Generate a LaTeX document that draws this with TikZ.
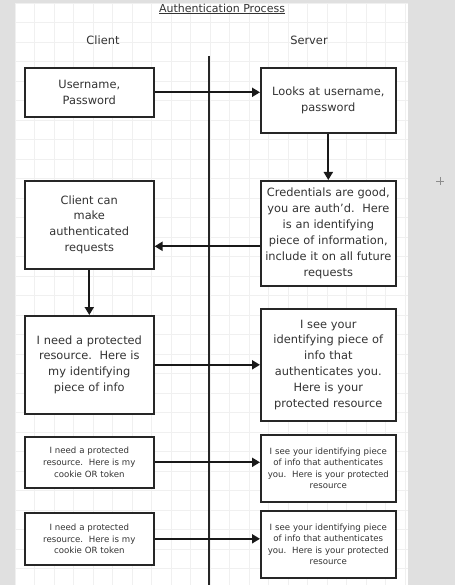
\documentclass[tikz,border=0pt]{standalone}
\usepackage{fontspec}
\setmainfont{DejaVu Sans}
\usetikzlibrary{arrows.meta,positioning}
\begin{document}
\begin{tikzpicture}[x=1pt,y=-1pt,
  box/.style={draw=black!85,line width=1.6pt,fill=white,text=black!80,align=center,inner sep=1pt,font=\fontsize{11.4}{15.9}\selectfont},
  cbox/.style={box,minimum width=129pt,text width=127pt},
  sbox/.style={box,minimum width=135pt,text width=133pt},
  small/.style={font=\fontsize{8.6}{11.6}\selectfont},
  arr/.style={line width=2pt,draw=black!90,-{Triangle[length=8pt,width=9pt]}},
  lbl/.style={font=\fontsize{11.4}{12}\selectfont,inner sep=0pt,text=black!80}]
\useasboundingbox (0,0) rectangle (455,585);
\fill[black!12] (0,0) rectangle (455,585);
\fill[white] (15,3) rectangle (408,585);
\draw[black!6,line width=0.5pt,shift={(15,3)}] (0,0) grid[step=19.5pt] (393,582);
% plus sign
\draw[black!45,line width=0.6pt] (436,181) -- (444,181) (440,177) -- (440,185);
% title and headers
\node[lbl,font=\fontsize{11}{12}\selectfont] (title) at (222,9) {\underline{Authentication Process}};
\node[lbl] (client) at (103,40) {Client};
\node[lbl] (server) at (309,40) {Server};
\coordinate (vtop) at (209,56);
\coordinate (vbot) at (209,585);
\draw[line width=1.2pt,black!85] (vtop) -- (vbot);
% boxes
\node[cbox,minimum height=49pt,anchor=north west] (b1) at (24,67) {Username,\\Password\\[8pt]};
\node[sbox,minimum height=65pt,anchor=north west] (b2) at (260,67) {Looks at username,\\password\\[7pt]};
\node[sbox,minimum height=105pt,anchor=north west] (b3) at (260,180) {Credentials are good,\\you are auth'd.\ \ Here\\is an identifying\\piece of information,\\include it on all future\\requests};
\node[cbox,minimum height=88pt,anchor=north west] (b4) at (24,180) {Client can\\make\\authenticated\\requests\\[4pt]};
\node[cbox,minimum height=98pt,anchor=north west] (b5) at (24,315) {I need a protected\\resource.\ \ Here is\\my identifying\\piece of info\\[10pt]};
\node[sbox,minimum height=112pt,anchor=north west] (b6) at (260,308) {I see your\\identifying piece of\\info that\\authenticates you.\\Here is your\\protected resource};
\node[cbox,small,minimum height=51pt,anchor=north west] (b7) at (24,436) {I need a protected\\resource.\ \ Here is my\\cookie OR token\\[7pt]};
\node[sbox,small,minimum height=67pt,anchor=north west] (b8) at (260,434) {I see your identifying piece\\of info that authenticates\\you.\ \ Here is your protected\\resource\\[6pt]};
\node[cbox,small,minimum height=52pt,anchor=north west] (b9) at (24,512) {I need a protected\\resource.\ \ Here is my\\cookie OR token\\[9pt]};
\node[sbox,small,minimum height=67pt,anchor=north west] (b10) at (260,510) {I see your identifying piece\\of info that authenticates\\you.\ \ Here is your protected\\resource\\[6pt]};
% arrows
\draw[arr] (b1.east) -- (b1.east -| b2.west);
\draw[arr] (b2.south) -- (b3.north);
\draw[arr] ([yshift=-13pt]b3.west) -- ([yshift=-13pt]b3.west -| b4.east);
\draw[arr] (b4.south) -- (b5.north);
\draw[arr] (b5.east) -- (b5.east -| b6.west);
\draw[arr] (b7.east) -- (b7.east -| b8.west);
\draw[arr] (b9.east) -- (b9.east -| b10.west);
\end{tikzpicture}
\end{document}
